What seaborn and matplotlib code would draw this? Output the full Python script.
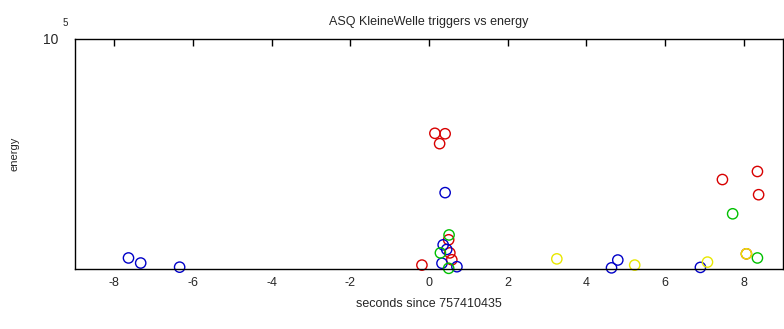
import matplotlib
matplotlib.use("Agg")
import matplotlib.pyplot as plt
import seaborn as sns
import pandas as pd

# trigger times (s since 757410435), energies, and channel colour group
red_t = [0.15, 0.41, 0.27, -0.18, 0.50, 0.53, 0.58, 7.46, 8.35, 8.38, 8.07]
red_e = [59000, 58800, 54500, 1700, 12700, 7000, 4000, 38900, 42400, 32300, 6600]
blue_t = [-7.64, -7.33, -6.34, 0.41, 0.36, 0.33, 0.71, 0.45, 4.64, 4.80, 6.90]
blue_e = [4800, 2600, 800, 33200, 10500, 2500, 1000, 8500, 500, 3900, 700]
green_t = [0.51, 0.29, 0.50, 7.72, 8.35]
green_e = [14800, 7000, 300, 24000, 4800]
yellow_t = [3.25, 5.23, 7.08, 8.07]
yellow_e = [4400, 1700, 3000, 6600]

df = pd.DataFrame({
    "t": red_t + blue_t + green_t + yellow_t,
    "energy": red_e + blue_e + green_e + yellow_e,
    "chan": ["r"] * len(red_t) + ["b"] * len(blue_t) + ["g"] * len(green_t) + ["y"] * len(yellow_t),
})

sns.set_style("white")
plt.rcParams["font.family"] = ["Liberation Sans", "DejaVu Sans"]

fig = plt.figure(figsize=(7.84, 3.29), dpi=100)
ax = fig.add_axes([75 / 784, 60 / 329, 708 / 784, 230 / 329])

palette = {"r": "#d80000", "b": "#0000c8", "g": "#00c000", "y": "#e8e800"}
sns.scatterplot(data=df, x="t", y="energy", hue="chan", palette=palette,
                marker="o", s=55, linewidth=1.0, legend=False, ax=ax, clip_on=False)
for coll in ax.collections:
    fc = coll.get_facecolors()
    coll.set_edgecolors(fc)
    coll.set_facecolors("none")

ax.set_xlim(-9, 9)
ax.set_ylim(0, 1e5)
ax.set_xticks([-8, -6, -4, -2, 0, 2, 4, 6, 8])
ax.set_xticklabels(["-8", "-6", "-4", "-2", "0", "2", "4", "6", "8"])
ax.set_yticks([1e5])
ax.set_yticklabels(["10"])
ax.tick_params(axis="both", direction="in", length=5, width=1, color="black",
               labelsize=9, top=True, right=False, pad=6)
ax.tick_params(axis="y", length=0, pad=12, labelsize=10)
for side in ["left", "bottom", "top", "right"]:
    ax.spines[side].set_visible(True)
    ax.spines[side].set_color("black")
    ax.spines[side].set_linewidth(1.0)

fig.text(65 / 784, 1 - 23 / 329, "5", fontsize=7, ha="center", va="center")
ax.set_title("ASQ KleineWelle triggers vs energy", fontsize=9, pad=10)
ax.set_xlabel("seconds since 757410435", fontsize=9, labelpad=6)
ax.set_ylabel("energy", fontsize=8)
ax.yaxis.set_label_coords(-55 / 708, 0.5)

fig.savefig("out.png", dpi=100)
